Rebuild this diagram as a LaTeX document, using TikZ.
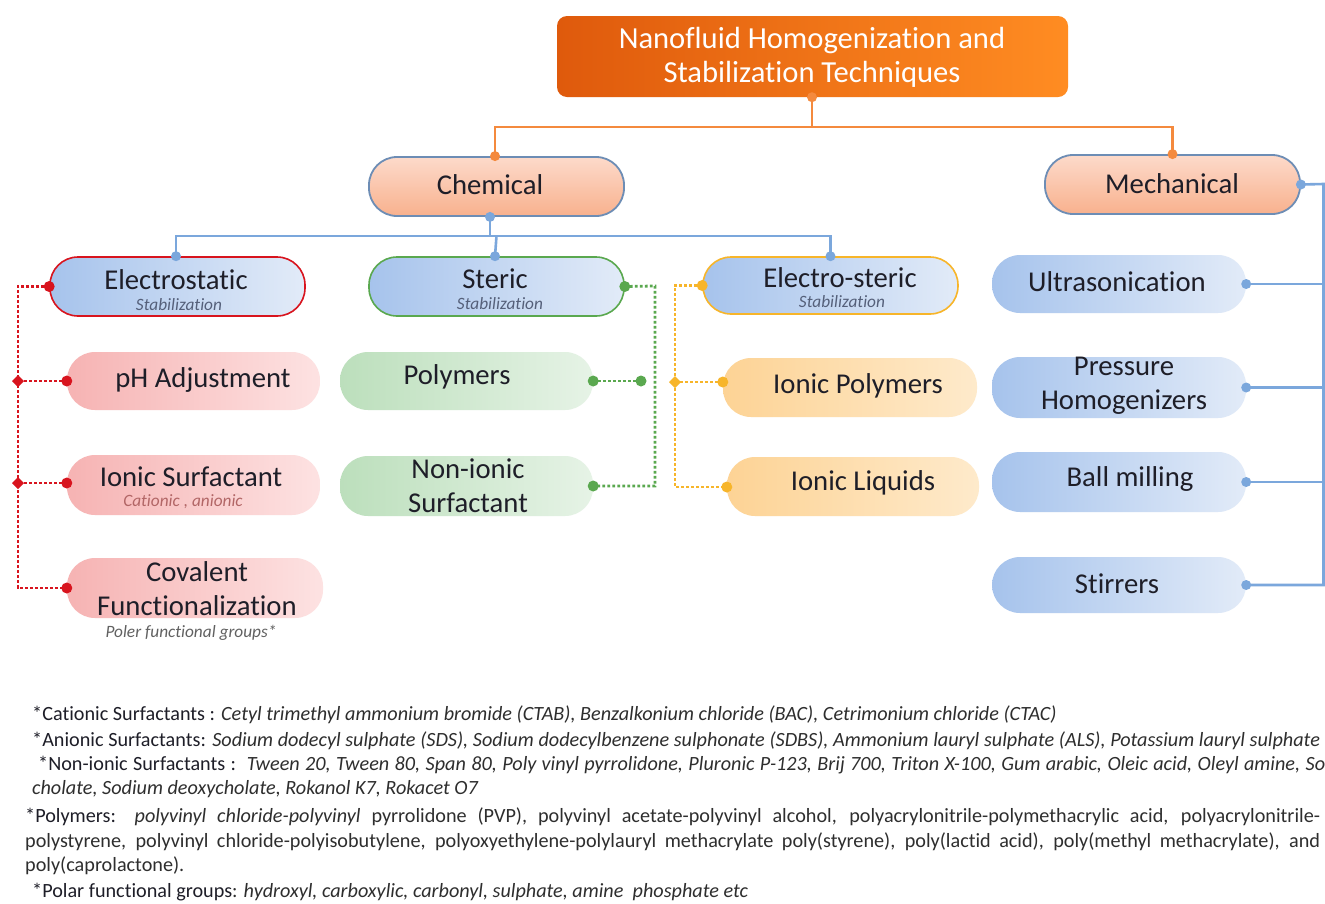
\documentclass[tikz,border=0pt]{standalone}
\usepackage{fontspec}
\setmainfont{Carlito}[Ligatures=NoCommon]
\usetikzlibrary{calc}
\definecolor{txt}{HTML}{1E1E28}
\definecolor{orL}{HTML}{DF5A0C}
\definecolor{orR}{HTML}{FF8C22}
\definecolor{orline}{HTML}{F48A3E}
\definecolor{peachT}{HTML}{FDDACA}
\definecolor{peachB}{HTML}{F8B18E}
\definecolor{bordB}{HTML}{6D8DB5}
\definecolor{blueL}{HTML}{A6C3EC}
\definecolor{blueR}{HTML}{E2EBF8}
\definecolor{blueline}{HTML}{7BA7DC}
\definecolor{redc}{HTML}{D8141E}
\definecolor{greenc}{HTML}{5AA84F}
\definecolor{yellc}{HTML}{F7B52A}
\definecolor{pinkL}{HTML}{F6B3B3}
\definecolor{pinkR}{HTML}{FDE2E2}
\definecolor{grnL}{HTML}{BCDFBC}
\definecolor{grnR}{HTML}{E6F3E6}
\definecolor{ylL}{HTML}{FDD395}
\definecolor{ylR}{HTML}{FEEACB}
\definecolor{subc}{HTML}{55607A}
\definecolor{foot}{HTML}{2E2E2E}
\tikzset{
  pill/.style={rounded corners=28pt, minimum width=255pt, minimum height=59pt, inner sep=0pt},
  peach/.style={pill, top color=peachT, bottom color=peachB, draw=bordB, line width=1.8pt},
  bluep/.style={pill, left color=blueL, right color=blueR},
  pinkp/.style={pill, left color=pinkL, right color=pinkR},
  grnp/.style={pill, left color=grnL, right color=grnR},
  ylp/.style={pill, left color=ylL, right color=ylR},
  lbl/.style={font=\fontsize{28.7}{34}\selectfont, text=txt, align=center, inner sep=0pt},
  sub/.style={font=\fontsize{17.3}{20}\selectfont\itshape, text=subc, inner sep=0pt},
  orangeline/.style={draw=orline, line width=2.6pt},
  bline/.style={draw=blueline, line width=2.6pt},
  reddot/.style={draw=redc, line width=2.8pt, dash pattern=on 2.8pt off 2.2pt},
  grndot/.style={draw=greenc, line width=2.8pt, dash pattern=on 2.8pt off 2.2pt},
  yeldot/.style={draw=yellc, line width=2.8pt, dash pattern=on 2.8pt off 2.2pt},
  fn/.style={anchor=base west, inner sep=0pt, font=\fontsize{20.2}{24}\selectfont, text=foot},
}
\newcommand{\lab}[1]{{\color{txt}#1}}
\begin{document}
\begin{tikzpicture}[x=1pt,y=-1pt]
\useasboundingbox[fill=white] (0,0) rectangle (1325,903);

% ---- title ----
\node[rounded corners=10pt, minimum width=511pt, minimum height=81pt, inner sep=0pt, left color=orL, right color=orR] (title) at (812.5,56.5) {};
\node[font=\fontsize{30.6}{34}\selectfont, text=white, align=center, inner sep=0pt] (titlet) at (812,57) {Nanofluid Homogenization and\\Stabilization Techniques};

% ---- level 1 ----
\node[peach] (chem) at (496.5,186.5) {};
\node[lbl] (chemt) at (490,185) {Chemical};
\node[peach] (mech) at (1172.5,184.5) {};
\node[lbl] (mecht) at (1172,184) {Mechanical};

% ---- chemical level 2 ----
\node[bluep, draw=redc, line width=1.6pt] (estat) at (177.5,286.5) {};
\node[lbl] (estatt) at (176,280) {Electrostatic};
\node[sub] (estats) at (179,304.5) {Stabilization};
\node[bluep, draw=greenc, line width=1.6pt] (steric) at (496.5,286.5) {};
\node[lbl] (sterict) at (495,279) {Steric};
\node[sub] (sterics) at (500,303.5) {Stabilization};
\node[bluep, draw=yellc, line width=1.6pt, minimum height=57pt] (esteric) at (830.5,285.5) {};
\node[lbl] (esterict) at (840,278) {Electro-steric};
\node[sub] (esterics) at (842,302) {Stabilization};

% ---- electrostatic items ----
\node[pinkp, minimum width=253pt, minimum height=58pt] (ph) at (193.5,381) {};
\node[lbl] (pht) at (203,380) {pH Adjustment};
\node[pinkp, minimum width=253pt, minimum height=60pt] (ionic) at (193.5,485) {};
\node[lbl] (ionict) at (191,477) {Ionic Surfactant};
\node[sub, text=black!50!red!60] (ionics) at (183,502) {Cationic , anionic};
\node[pinkp, minimum width=256pt, minimum height=60pt] (cov) at (195,588) {};
\node[lbl] (covt) at (197,589) {Covalent\\Functionalization};
\node[sub, text=black!62] (covs) at (191,633) {Poler functional groups*};

% ---- steric items ----
\node[grnp, minimum width=253pt, minimum height=58pt] (poly) at (466.5,381) {};
\node[lbl] (polyt) at (457,377) {Polymers};
\node[grnp, minimum width=253pt, minimum height=60pt] (nonion) at (466.5,486) {};
\node[lbl] (noniont) at (468,485.5) {Non-ionic\\Surfactant};

% ---- electro-steric items ----
\node[ylp, minimum width=254pt] (ipoly) at (850,387.5) {};
\node[lbl] (ipolyt) at (858,386) {Ionic Polymers};
\node[ylp, minimum width=252pt] (iliq) at (853,486.5) {};
\node[lbl] (iliqt) at (863,483) {Ionic Liquids};

% ---- mechanical items ----
\node[bluep, minimum width=254pt, minimum height=58pt] (ultra) at (1119,284) {};
\node[lbl] (ultrat) at (1117,282) {Ultrasonication};
\node[bluep, minimum width=254pt, minimum height=61pt] (press) at (1119,387.5) {};
\node[lbl] (presst) at (1124,386) {Pressure\\Homogenizers};
\node[bluep, minimum width=254pt, minimum height=60pt] (ball) at (1119,482) {};
\node[lbl] (ballt) at (1130,479) {Ball milling};
\node[bluep, minimum width=254pt, minimum height=56pt] (stir) at (1119,585) {};
\node[lbl] (stirt) at (1117,584) {Stirrers};

% ---- orange connectors ----
\coordinate (oj) at (812,127);
\draw[orangeline] (title.south -| oj) -- (oj);
\draw[orangeline] (chem.north -| 495,0) |- (oj) -| (mech.north);
\fill[orline] (title.south -| oj) circle (5);
\fill[orline] (chem.north -| 495,0) circle (5);
\fill[orline] (mech.north) circle (5);

% ---- blue chemical connectors ----
\coordinate (bj) at (490,236);
\draw[bline] (chem.south -| bj) -- (bj);
\draw[bline] (estat.north -| 176,0) |- (bj) -| (esteric.north);
\draw[bline] (steric.north -| 495,0) -- (steric.north |- bj);
\fill[blueline] (chem.south -| bj) circle (5);
\fill[blueline] (estat.north -| 176,0) circle (5);
\fill[blueline] (steric.north -| 495,0) circle (5);
\fill[blueline] (esteric.north) circle (5);

% ---- red dotted ----
\coordinate (rtop) at (18,286.5);
\coordinate (rbot) at (18,588);
\draw[reddot] (estat.west) -- (rtop) -- (rbot) -- (cov.west);
\draw[reddot] (ph.west) -- (ph.west -| rtop);
\draw[reddot] (ionic.west |- 0,483) -- (rtop |- 0,483);
\fill[redc] (estat.west) circle (5.5);
\fill[redc] (ph.west) circle (5.5);
\fill[redc] (ionic.west |- 0,483) circle (5.5);
\fill[redc] (cov.west) circle (5.5);
\foreach \yy in {381,483}{
  \fill[redc] (18,\yy) ++(-6,0) -- ++(6,-6) -- ++(6,6) -- ++(-6,6) -- cycle;
}

% ---- green dotted ----
\coordinate (gx) at (655,286);
\draw[grndot] (steric.east) -- (gx) -- (gx |- nonion.east) -- (nonion.east);
\draw[grndot] (poly.east) -- (641,381);
\fill[greenc] (steric.east) circle (5.5);
\fill[greenc] (poly.east) circle (5.5);
\fill[greenc] (641,381) circle (5.5);
\fill[greenc] (nonion.east) circle (5.5);

% ---- yellow dotted ----
\coordinate (yx) at (675,285.5);
\draw[yeldot] (esteric.west) -- (yx) -- (yx |- 0,487) -- (iliq.west |- 0,487);
\draw[yeldot] (yx |- 0,382) -- (ipoly.west |- 0,382);
\fill[yellc] (esteric.west) circle (5.5);
\fill[yellc] (ipoly.west |- 0,382) circle (5.5);
\fill[yellc] (iliq.west |- 0,487) circle (5.5);
\fill[yellc] (675,382) ++(-6,0) -- ++(6,-6) -- ++(6,6) -- ++(-6,6) -- cycle;

% ---- mechanical connectors ----
\coordinate (mx) at (1323.5,184);
\draw[bline] (mech.east) -- (mx) -- (mx |- stir.east) -- (stir.east);
\draw[bline] (ultra.east) -- (ultra.east -| mx);
\draw[bline] (press.east) -- (press.east -| mx);
\draw[bline] (ball.east) -- (ball.east -| mx);
\foreach \n in {mech,ultra,press,ball,stir}{\fill[blueline] (\n.east) circle (5);}

% ---- footnotes ----
\node[fn] (f1) at (32,720) {\lab{*Cationic Surfactants :} \textit{Cetyl trimethyl ammonium bromide (CTAB), Benzalkonium chloride (BAC), Cetrimonium chloride (CTAC)}};
\node[fn] (f2) at (32,746) {\makebox[1288pt][s]{\lab{*Anionic Surfactants:} \textit{Sodium dodecyl sulphate (SDS), Sodium dodecylbenzene sulphonate (SDBS), Ammonium lauryl sulphate (ALS), Potassium lauryl sulphate}}};
\node[fn] (f3) at (38,770) {\makebox[1287pt][s]{\lab{*Non-ionic Surfactants :}\ \ \textit{Tween 20, Tween 80, Span 80, Poly vinyl pyrrolidone, Pluronic P-123, Brij 700, Triton X-100, Gum arabic, Oleic acid, Oleyl amine, So}}};
\node[fn] (f4) at (32,794) {\textit{cholate, Sodium deoxycholate, Rokanol K7, Rokacet O7}};
\node[fn] (f5) at (25,822) {\makebox[1295pt][s]{\lab{*Polymers:} \textit{polyvinyl chloride-polyvinyl} pyrrolidone (PVP), polyvinyl acetate-polyvinyl alcohol, polyacrylonitrile-polymethacrylic acid, polyacrylonitrile-}};
\node[fn] (f6) at (25,847) {\makebox[1295pt][s]{polystyrene, polyvinyl chloride-polyisobutylene, polyoxyethylene-polylauryl methacrylate poly(styrene), poly(lactid acid), poly(methyl methacrylate), and}};
\node[fn] (f7) at (25,871) {poly(caprolactone).};
\node[fn] (f8) at (32,897) {\lab{*Polar functional groups}: \textit{hydroxyl, carboxylic, carbonyl, sulphate, amine\ \ phosphate etc}};
\end{tikzpicture}
\end{document}
